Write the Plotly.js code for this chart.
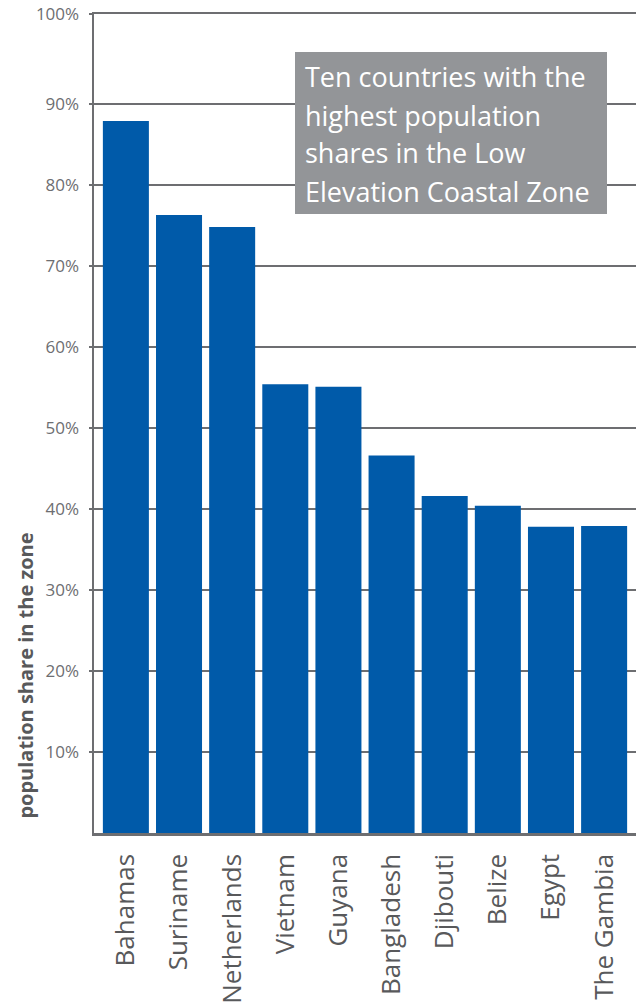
<!DOCTYPE html>
<html>
<head>
<meta charset="utf-8">
<script src="https://cdn.plot.ly/plotly-3.0.1.min.js"></script>
<style>html,body{margin:0;padding:0;background:#fff}#chart{width:636px;height:1008px}</style>
</head>
<body>
<div id="chart"></div>
<script>
const countries = ["Bahamas","Suriname","Netherlands","Vietnam","Guyana","Bangladesh","Djibouti","Belize","Egypt","The Gambia"];
const shares = [87.9, 76.3, 74.8, 55.4, 55.1, 46.6, 41.6, 40.4, 37.8, 37.9];
const yTickVals = [10,20,30,40,50,60,70,80,90,101.1];
const yTickText = ["10%","20%","30%","40%","50%","60%","70%","80%","90%","100%"];
const boxLines = ["Ten countries with the","highest population","shares in the Low","Elevation Coastal Zone"];

const axisGray = '#6d6e71';
const FONT = 'Open Sans';

const trace = {
  type: 'bar',
  x: countries,
  y: shares,
  marker: {color: '#005aa9', line: {width: 0}},
  hoverinfo: 'x+y'
};

const plotTop = 14, plotBottom = 833, plotH = plotBottom - plotTop;
const boxTop = 52, boxBottom = 214;
const toPaperY = py => (plotBottom - py) / plotH;

const annotations = boxLines.map((t, i) => ({
  xref: 'paper', yref: 'paper',
  x: (303 - 94) / 542, y: toPaperY(77 + i * 38),
  xanchor: 'left', yanchor: 'middle',
  text: t, showarrow: false,
  font: {family: FONT, size: 27, color: '#ffffff'}
}));
annotations.push({
  xref: 'paper', yref: 'paper',
  x: -0.128, y: toPaperY(676),
  xanchor: 'center', yanchor: 'middle',
  textangle: -90,
  text: '<b>population share in the zone</b>',
  showarrow: false,
  font: {family: FONT, size: 20, color: '#58595b'}
});

const layout = {
  width: 636, height: 1008,
  margin: {l: 94, r: 0, t: plotTop, b: 1008 - plotBottom, pad: 0},
  paper_bgcolor: '#ffffff', plot_bgcolor: '#ffffff',
  showlegend: false,
  bargap: 0.134,
  font: {family: FONT, color: axisGray},
  xaxis: {
    type: 'category',
    range: [-0.6, 9.6],
    tickangle: -90,
    tickfont: {family: FONT, size: 26, color: '#58595b'},
    ticks: '', ticklabelstandoff: 8,
    showline: true, linecolor: axisGray, linewidth: 2.5, mirror: true,
    showgrid: false, zeroline: false, fixedrange: true
  },
  yaxis: {
    range: [0, 101.1],
    tickvals: yTickVals, ticktext: yTickText,
    tickfont: {family: FONT, size: 17, color: axisGray},
    ticks: 'outside', ticklen: 3, tickcolor: axisGray, tickwidth: 1.5,
    ticklabelstandoff: 6,
    showline: true, linecolor: axisGray, linewidth: 2.5,
    showgrid: true, gridcolor: axisGray, gridwidth: 1.5,
    zeroline: false, fixedrange: true
  },
  shapes: [{
    type: 'rect', xref: 'paper', yref: 'paper',
    x0: (295 - 94) / 542, x1: (607 - 94) / 542,
    y0: toPaperY(boxBottom), y1: toPaperY(boxTop),
    fillcolor: '#939598', line: {width: 0}, layer: 'above'
  }],
  annotations: annotations
};

Plotly.newPlot('chart', [trace], layout, {displayModeBar: false, staticPlot: true});
</script>
</body>
</html>
